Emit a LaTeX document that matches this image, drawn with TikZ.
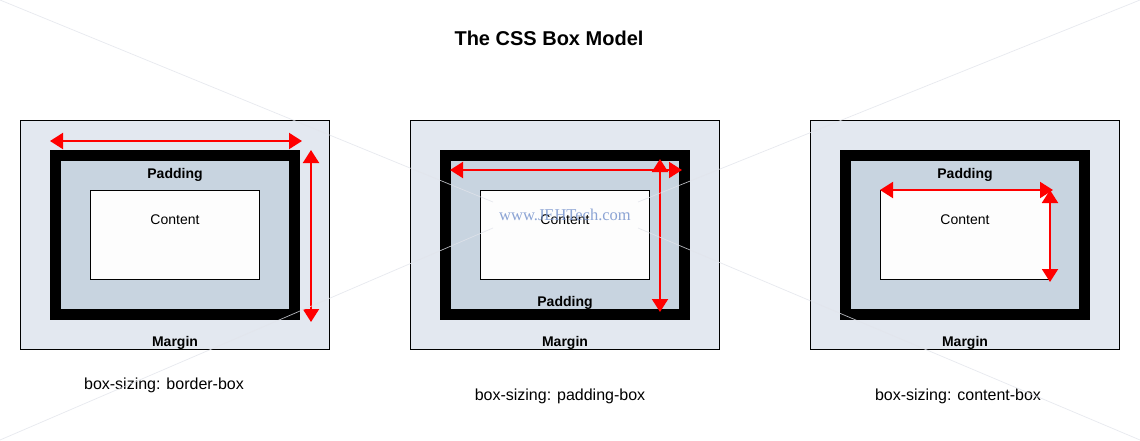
\documentclass[tikz,border=0pt]{standalone}
\usepackage{fontspec}
\setmainfont{Liberation Sans}
\newfontfamily\wmfont{Liberation Serif}
\usetikzlibrary{arrows.meta}
\definecolor{marginfill}{RGB}{227,232,240}
\definecolor{padfill}{RGB}{200,212,224}
\definecolor{contentfill}{RGB}{253,253,253}
\definecolor{wmline}{RGB}{226,228,235}
\definecolor{wmtext}{RGB}{120,148,205}
\tikzset{
  box/.style={rectangle, inner sep=0pt, outer sep=0pt, anchor=north west},
  marginbox/.style={box, fill=marginfill, draw=black, line width=0.9pt},
  borderbox/.style={box, fill=black},
  padbox/.style={box, fill=padfill},
  contentbox/.style={box, fill=contentfill, draw=black, line width=0.9pt},
  boldlabel/.style={font=\fontsize{14}{16}\selectfont\bfseries, inner sep=0pt},
  plainlabel/.style={font=\fontsize{14}{16}\selectfont, inner sep=0pt},
  caption/.style={font=\fontsize{16}{18}\selectfont, inner sep=0pt},
  dimarrow/.style={red, line width=2pt,
    {Triangle[length=13pt,width=16pt]}-{Triangle[length=13pt,width=16pt]}},
  wm/.style={wmline, line width=0.7pt}
}
\begin{document}
\begin{tikzpicture}[x=1pt,y=-1pt]
\useasboundingbox[fill=white] (0,0) rectangle (1140,440);

\node[font=\fontsize{20}{22}\selectfont\bfseries, inner sep=0pt] (title) at (549,38) {The CSS Box Model};

\foreach \i/\ox in {1/0,2/390,3/790}{
  \begin{scope}[shift={(\ox,0)}]
    \node[marginbox, minimum width=309pt, minimum height=229pt] (m\i) at (20,120) {};
    \node[borderbox, minimum width=250pt, minimum height=170pt] (b\i) at (50,150) {};
    \node[padbox, minimum width=228pt, minimum height=148pt] (p\i) at (61,161) {};
    \node[contentbox, minimum width=169pt, minimum height=89pt] (c\i) at (90,190) {};
    \node[plainlabel] (ct\i) at (175,220) {Content};
    \node[boldlabel] (ml\i) at (175,343) {Margin};
  \end{scope}
}
\node[boldlabel] (pl1) at (175,175) {Padding};
\node[boldlabel] (pl2) at (565,303) {Padding};
\node[boldlabel] (pl3) at (965,175) {Padding};

\node[caption] (cap1) at (164,385) {box-sizing: border-box};
\node[caption] (cap2) at (560,396) {box-sizing: padding-box};
\node[caption] (cap3) at (958,396) {box-sizing: content-box};

% dimension arrows
\coordinate (h1a) at (50,141);  \coordinate (h1b) at (302,141);
\coordinate (v1a) at (311,150); \coordinate (v1b) at (311,322);
\coordinate (h2a) at (450,170); \coordinate (h2b) at (682,170);
\coordinate (v2a) at (660,159); \coordinate (v2b) at (660,312);
\coordinate (h3a) at (880,190); \coordinate (h3b) at (1053,190);
\coordinate (v3a) at (1050,190); \coordinate (v3b) at (1050,282);
\draw[dimarrow] (h1a) -- (h1b);
\draw[dimarrow] (v1a) -- (v1b);
\draw[dimarrow] (h2a) -- (h2b);
\draw[dimarrow] (v2a) -- (v2b);
\draw[dimarrow] (h3a) -- (h3b);
\draw[dimarrow] (v3a) -- (v3b);

% watermark
\coordinate (cTL) at (0,0); \coordinate (cBL) at (0,440);
\coordinate (cTR) at (1140,0); \coordinate (cBR) at (1140,440);
\coordinate (wTL) at (493,202); \coordinate (wBL) at (493,228);
\coordinate (wTR) at (638,202); \coordinate (wBR) at (638,228);
\draw[wm, opacity=0.8] (cTL) -- (wTL);
\draw[wm, opacity=0.8] (cBL) -- (wBL);
\draw[wm, opacity=0.8] (cTR) -- (wTR);
\draw[wm, opacity=0.8] (cBR) -- (wBR);
\node[font=\wmfont\fontsize{16.5}{18}\selectfont, text=wmtext, opacity=0.85, inner sep=0pt] (wmark) at (565,215) {www.JEHTech.com};
\end{tikzpicture}
\end{document}
